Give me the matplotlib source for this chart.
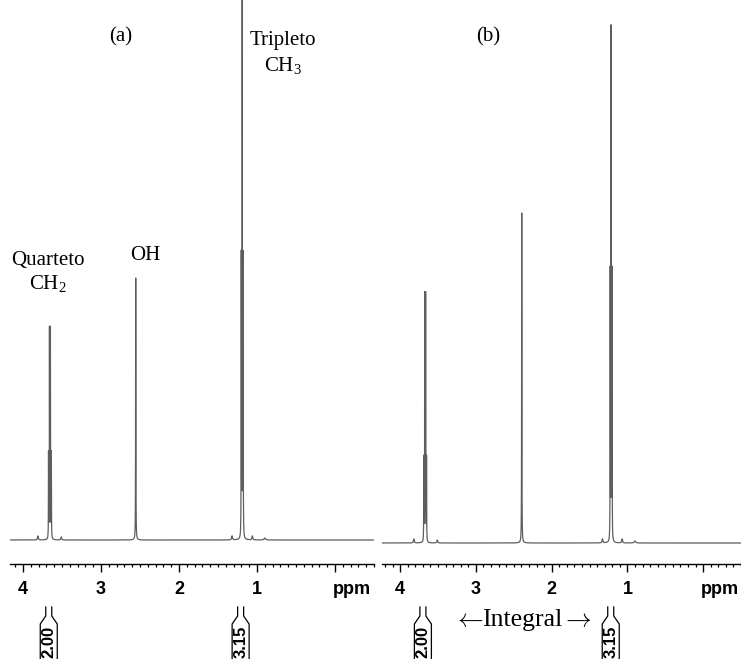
import numpy as np
import matplotlib
matplotlib.use('Agg')
import matplotlib.pyplot as plt
from matplotlib.lines import Line2D
from matplotlib.ticker import FixedLocator, MultipleLocator
from matplotlib.transforms import IdentityTransform

# ---------------- data ----------------
# panel (a): peak positions (ppm), heights (arb.), half widths (ppm)
a_ppm    = [3.81, 3.673, 3.661, 3.649, 3.637, 3.51, 2.555, 1.32, 1.202, 1.190, 1.178, 1.06, 0.90]
a_height = [4,    85,    209,   209,   85,    3,    262,   4,    280,   562,   280,   4,    2]
a_width  = [0.006, 0.0015, 0.0015, 0.0015, 0.0015, 0.006, 0.0018, 0.006, 0.0015, 0.0015, 0.0015, 0.006, 0.01]

# panel (b)
b_ppm    = [3.82, 3.688, 3.676, 3.664, 3.652, 3.51, 2.395, 1.33, 1.227, 1.215, 1.203, 1.07, 0.90]
b_height = [4,    83,    246,   246,   83,    3,    330,   4,    268,   510,   268,   4,    2]
b_width  = [0.006, 0.0015, 0.0015, 0.0015, 0.0015, 0.006, 0.0018, 0.006, 0.0015, 0.0015, 0.0015, 0.006, 0.01]

# integrals
a_int_ppm = [3.67, 1.21]
b_int_ppm = [3.70, 1.22]
int_labels = ['2.00', '3.15']

major_ticks = [4, 3, 2, 1, 0]
major_labels = ['4', '3', '2', '1', '']

# ---------------- figure ----------------
W, H = 741, 659
fig = plt.figure(figsize=(W / 100, H / 100), dpi=100)

serif = ['Liberation Serif', 'DejaVu Serif']
sans = ['Liberation Sans', 'DejaVu Sans']
plt.rcParams['mathtext.fontset'] = 'custom'
plt.rcParams['mathtext.rm'] = 'Liberation Serif'
plt.rcParams['mathtext.it'] = 'Liberation Serif:italic'

axis_y = 564  # pixel row of x-axis line (from top)


def spectrum(ppm, height, width):
    x = np.linspace(4.4, -0.6, 120001)
    y = np.zeros_like(x)
    for p, h, w in zip(ppm, height, width):
        y += h / (1.0 + ((x - p) / w) ** 2)
    return x, y


def make_panel(x0, x1, xlim, baseline, ppm, height, width):
    ax = fig.add_axes([x0 / W, (H - axis_y) / H, (x1 - x0) / W, axis_y / H])
    x, y = spectrum(ppm, height, width)
    ax.plot(x, y, color='#5e5e5e', lw=0.9)
    ax.set_xlim(*xlim)
    ax.set_ylim(-(axis_y - baseline), baseline)
    for s in ['top', 'left', 'right']:
        ax.spines[s].set_visible(False)
    ax.spines['bottom'].set_linewidth(1.0)
    ax.set_yticks([])
    ax.xaxis.set_major_locator(FixedLocator(major_ticks))
    ax.set_xticklabels(major_labels)
    ax.xaxis.set_minor_locator(MultipleLocator(0.1))
    ax.tick_params(axis='x', which='major', direction='out', length=5.5, width=1.0, pad=7)
    ax.tick_params(axis='x', which='minor', direction='out', length=2.5, width=0.9)
    for lab in ax.get_xticklabels():
        lab.set_fontfamily(sans)
        lab.set_fontweight('bold')
        lab.set_fontsize(13)
    ax.text(-0.22, -(axis_y - baseline) - 5.5 / 72 * 100 - 7 / 72 * 100, 'ppm',
            ha='center', va='top', fontsize=13, fontweight='bold',
            family=sans, clip_on=False)
    return ax


axA = make_panel(10, 374, (4.167, -0.50), 540, a_ppm, a_height, a_width)
axB = make_panel(382, 741, (4.24, -0.50), 543, b_ppm, b_height, b_width)


def bracket(ax, xc_ppm, label):
    cx = ax.transData.transform((xc_ppm, 0))[0]

    def P(dx, ytop):
        return cx + dx, H - ytop
    segs = [
        [P(-3, 607), P(-3, 616), P(-8.5, 624), P(-8.5, 662)],
        [P(3, 607), P(3, 616), P(8.5, 624), P(8.5, 662)],
    ]
    for s in segs:
        xs, ys = zip(*s)
        fig.add_artist(Line2D(xs, ys, transform=IdentityTransform(), color='black', lw=0.9))
    fig.text(cx / W, (H - 626) / H, label, rotation=90, ha='center', va='top',
             fontsize=12, fontweight='bold', family=sans)


for xc, lab in zip(a_int_ppm, int_labels):
    bracket(axA, xc, lab)
for xc, lab in zip(b_int_ppm, int_labels):
    bracket(axB, xc, lab)


def ftext(x, y, s, **kw):
    opts = dict(ha='center', va='center', fontsize=15, family=serif)
    opts.update(kw)
    fig.text(x / W, 1 - y / H, s, **opts)


ftext(121, 37, '(a)')
ftext(488, 37, '(b)')
ftext(283, 41, 'Tripleto')
ftext(283, 66, 'CH$_3$')
ftext(48, 260, 'Quarteto')
ftext(48, 283, 'CH$_2$')
ftext(145, 256, 'OH')
ftext(522, 626, 'Integral', fontsize=18.5, va='baseline')
ftext(468, 620, r'$\leftarrow$', fontsize=18.5, math_fontfamily='cm')
ftext(576, 620, r'$\rightarrow$', fontsize=18.5, math_fontfamily='cm')

fig.savefig('out.png', dpi=100)
